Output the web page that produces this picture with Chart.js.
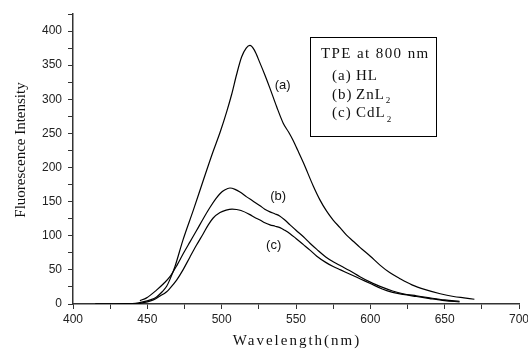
<!DOCTYPE html>
<html>
<head>
<meta charset="utf-8">
<script src="https://cdn.jsdelivr.net/npm/chart.js@4.4.1/dist/chart.umd.min.js"></script>
<style>
html,body{margin:0;padding:0;background:#fff;}
#wrap{width:528px;height:352px;position:relative;}
</style>
</head>
<body>
<div id="wrap"><canvas id="c" width="528" height="352"></canvas></div>
<script>
// ---- data ----
const waveA = [415,425,435,442,447,452,456,460,463,465,468.6,474,481,487.6,494,499,503.4,506.7,510,513.4,516.5,519,522,525.8,529,532.5,537,541.4,545,548,551,555,561.6,566,570.6,575,579.6,584,588.5,593,600,606.5,613,620,628,637,647,656,663,670];
const intA  = [0,0,0.5,1,3,6,10,18,26,35,55,94,138,181,222,252,282,307,336,362,375,379,372,353,336,316,289,265,252,240,226,207,173,153,136,123,112,101,92,83,70,57,46,37,28,21,15,11,9,7];

const waveB = [445,449.5,456,461,465.2,470,474.2,478.7,483.2,487.6,492,496,499,502,505.6,509,512.3,516.8,521,525.8,529,532.5,536,539,542.5,546,550,555,559.4,564,570,575,580,586,593,600,608.7,615,622,631,640,650,660];
const intB  = [5,9,20,30,40,57,74,91,108,125,141,154,162,167,170,168,164,157,151,144,139,135,132,129,123,116,108,98.5,89,80,69,62,56,49,40,32,24,19,15,12,9,6,4];

const waveC = [415,425,435,445,450,454,458,463,465.2,469.7,474,478.7,483,487.6,491,494.3,498.9,503,507,510,513,519,522,525.8,529,532.5,536,539.2,542.5,546,550,555,559.4,564,570,575,580,586,593,600,608,615,622,631,640,650,660];
const intC  = [0,0,0.3,1,3,6,11,18,23,35,50,69,86,103,116,126,134,137.5,139,138.5,137,131,127,123,119,116,114,112,108,103,96,87,79,70,61,55,50,44,37,30,22,17,14,11,8,5,3];

const seriesLabels = ['(a)','(b)','(c)'];
const labelPos = [[541,320],[538,157],[535,86]];   // data coordinates of curve labels
const legendTitle = 'TPE at 800 nm';
const legendRows = [['(a)','HL',''],['(b)','ZnL','2'],['(c)','CdL','2']];
const xTitle = 'Wavelength(nm)';
const yTitle = 'Fluorescence Intensity';
const xMin = 400, xMax = 700, yMin = 0, yMax = 425;

function pts(xs, ys){ return xs.map((x,i)=>({x:x, y:ys[i]})); }

const lineStyle = {borderColor:'#000', borderWidth:1.2, pointRadius:0, fill:false, tension:0.4, cubicInterpolationMode:'monotone'};

const overlay = {
  id:'overlay',
  afterDraw(chart){
    const ctx = chart.ctx, xs = chart.scales.x, ys = chart.scales.y;
    ctx.save();
    ctx.fillStyle = '#111';
    // curve labels
    ctx.font = '13px "Liberation Sans", Arial, sans-serif';
    ctx.textAlign = 'center'; ctx.textBaseline = 'middle';
    seriesLabels.forEach((t,i)=>{
      ctx.fillText(t, xs.getPixelForValue(labelPos[i][0]), ys.getPixelForValue(labelPos[i][1]));
    });
    // legend box
    ctx.strokeStyle = '#000'; ctx.lineWidth = 1;
    ctx.strokeRect(310.5, 37.5, 126, 99);
    ctx.textAlign = 'left'; ctx.textBaseline = 'alphabetic';
    ctx.font = '15px "Liberation Serif", "Times New Roman", serif';
    ctx.letterSpacing = '1.4px';
    ctx.fillText(legendTitle, 321, 58);
    const rowsY = [80, 98.5, 117];
    ctx.letterSpacing = '1px';
    legendRows.forEach((r,i)=>{
      ctx.font = '15px "Liberation Serif", "Times New Roman", serif';
      ctx.fillText(r[0], 332, rowsY[i]);
      ctx.fillText(r[1], 356, rowsY[i]);
      if (r[2]) {
        const w = ctx.measureText(r[1]).width;
        ctx.font = '9px "Liberation Serif", "Times New Roman", serif';
        ctx.fillText(r[2], 356 + w + 1, rowsY[i] + 4.5);
      }
    });
    // axis titles
    ctx.font = '15px "Liberation Serif", "Times New Roman", serif';
    ctx.letterSpacing = '2px';
    ctx.textAlign = 'center';
    ctx.fillText(xTitle, 297, 345);
    ctx.letterSpacing = '0px';
    ctx.translate(25, 150);
    ctx.rotate(-Math.PI/2);
    ctx.fillText(yTitle, 0, 0);
    ctx.restore();
  }
};

new Chart(document.getElementById('c'), {
  type:'line',
  data:{
    datasets:[
      Object.assign({label:'HL', data:pts(waveA,intA)}, lineStyle),
      Object.assign({label:'ZnL2', data:pts(waveB,intB)}, lineStyle),
      Object.assign({label:'CdL2', data:pts(waveC,intC)}, lineStyle)
    ]
  },
  options:{
    responsive:false, animation:false, devicePixelRatio:1,
    layout:{padding:{top:14,right:0,left:0,bottom:0}},
    plugins:{legend:{display:false}, tooltip:{enabled:false}},
    scales:{
      x:{
        type:'linear', min:xMin, max:xMax,
        afterFit(s){ s.height = 48; s.paddingRight = 9; s.paddingLeft = 0; },
        ticks:{stepSize:25, autoSkip:false, maxRotation:0, padding:3, color:'#222',
          font:{family:'"Liberation Sans", Arial, sans-serif', size:12},
          callback:v=> v%50===0 ? String(v) : ''},
        grid:{drawOnChartArea:false, drawTicks:true, tickLength:5, color:'#333', lineWidth:1},
        border:{display:true, color:'#333', width:1.5}
      },
      y:{
        type:'linear', min:yMin, max:yMax,
        afterFit(s){ s.width = 73; },
        ticks:{stepSize:25, autoSkip:false, padding:6, color:'#222',
          font:{family:'"Liberation Sans", Arial, sans-serif', size:12},
          callback:v=> v%50===0 ? String(v) : ''},
        grid:{drawOnChartArea:false, drawTicks:true, tickLength:5, color:'#333', lineWidth:1},
        border:{display:true, color:'#333', width:1.5}
      }
    }
  },
  plugins:[overlay]
});
</script>
</body>
</html>
